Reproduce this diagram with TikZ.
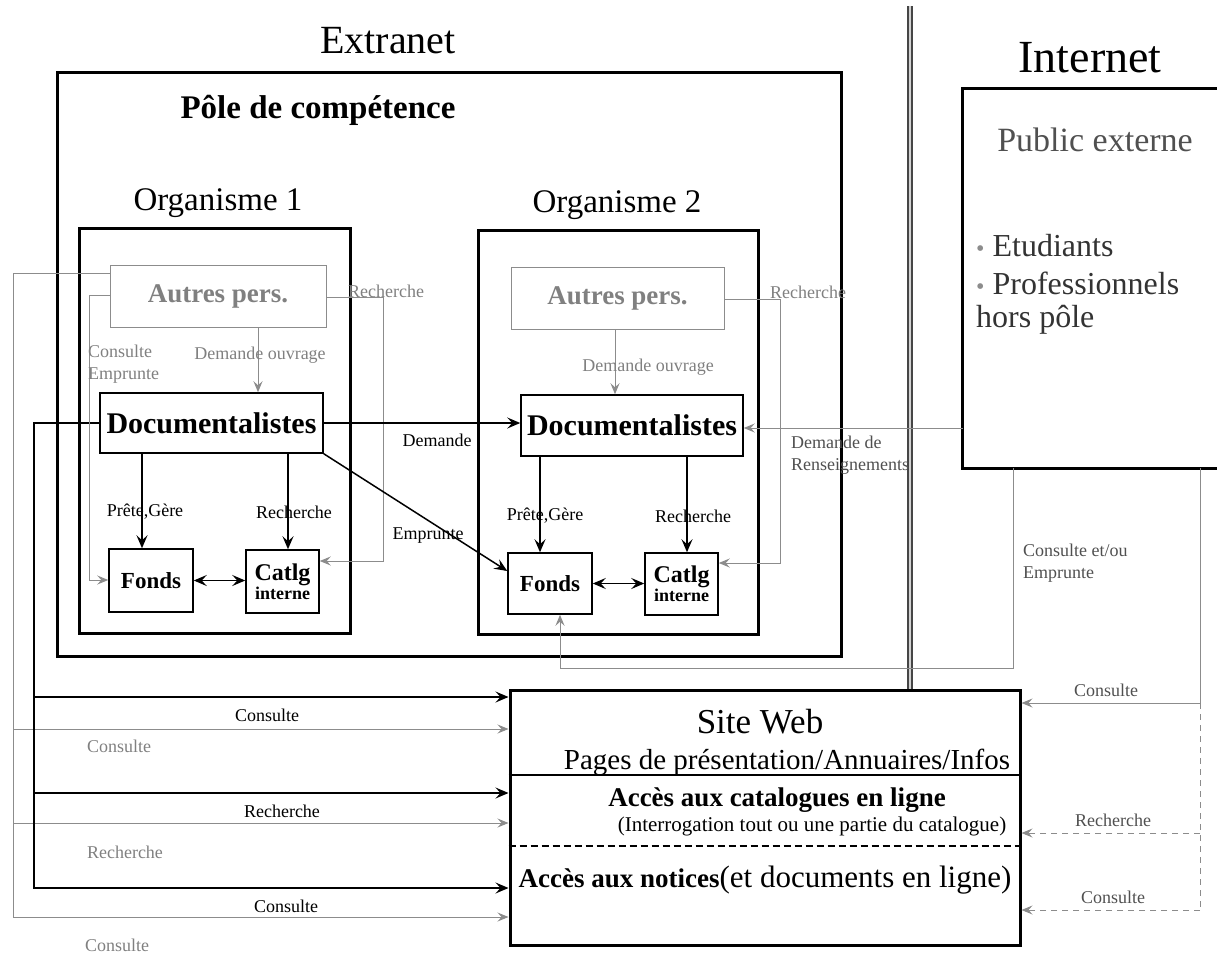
\documentclass[tikz,border=0pt]{standalone}
\usepackage{fontspec}
\setmainfont{Liberation Serif}
\usetikzlibrary{arrows.meta,calc}
\definecolor{lgray}{HTML}{8C8C8C}
\definecolor{tgray}{HTML}{808080}
\definecolor{dgray}{HTML}{505050}
\definecolor{pgray}{HTML}{333333}
\newcommand{\fs}[1]{\fontsize{#1}{#1}\selectfont}
\newcommand{\fsl}[2]{\fontsize{#1}{#2}\selectfont}
\tikzset{
  frame/.style={draw, line width=3pt, inner sep=0pt},
  box/.style={draw, line width=1.5pt, inner sep=0pt, font=\bfseries},
  gbox/.style={draw=lgray, line width=1pt, inner sep=0pt, text=tgray, font=\bfseries\fs{27}},
  blk/.style={line width=1.5pt, >={Stealth[length=13pt,width=11pt,inset=5pt]}, ->},
  blkb/.style={line width=1.5pt, >={Stealth[length=13pt,width=11pt,inset=5pt]}, <->},
  gry/.style={draw=lgray, line width=1pt, >={Stealth[length=11pt,width=9pt,inset=4pt]}, ->},
  gln/.style={draw=lgray, line width=1pt},
  gdash/.style={dash pattern=on 6pt off 5pt},
  lbl/.style={font=\fs{18}, inner sep=1pt},
  glbl/.style={lbl, text=tgray},
  dlbl/.style={lbl, text=dgray},
}
\begin{document}
\begin{tikzpicture}[x=1pt,y=-1pt]
\useasboundingbox (0,0) rectangle (1217,953);

% titles
\node[font=\fs{40}] (extranet) at (388,41) {Extranet};
\node[font=\fs{46}] (internet) at (1090,58) {Internet};

% frames
\node[frame, minimum width=784, minimum height=584] (pole) at (449,364) {};
\node[font=\bfseries\fs{33}] (polet) at (318,110) {Pôle de compétence};
\node[frame, minimum width=271, minimum height=405] (org1) at (214.5,430.5) {};
\node[frame, minimum width=280, minimum height=404] (org2) at (618,432) {};
\node[font=\fs{33}] (org1t) at (218,203) {Organisme 1};
\node[font=\fs{33}] (org2t) at (617,205) {Organisme 2};

% public externe (right edge beyond the page)
\node[inner sep=0pt, minimum width=254, minimum height=379] (pub) at (1090,278.5) {};
\draw[line width=3pt] (pub.north east) -- (pub.north west) -- (pub.south west) -- (pub.south east);
\node[font=\fs{34}, text=dgray] (pubt) at (1095,140) {Public externe};
\node[font=\fs{32}, text=pgray, anchor=west, inner sep=0pt] (pub1) at (976,246) {{\color{lgray}\fs{24}•} Etudiants};
\node[font=\fs{32}, text=pgray, anchor=west, inner sep=0pt] (pub2) at (976,283) {{\color{lgray}\fs{24}•} Professionnels};
\node[font=\fs{32}, text=pgray, anchor=west, inner sep=0pt] (pub3) at (976,320) {hors pôle};

% separator
\draw[draw=gray!55!black, line width=2pt, double=gray!35, double distance=1.6pt] (910,6) -- (910,690);

% organisme 1 nodes
\node[gbox, minimum width=216, minimum height=62] (ap1) at (218,296) {Autres pers.};
\node[box, font=\bfseries\fs{30}, minimum width=223, minimum height=60] (doc1) at (211.5,423) {Documentalistes};
\node[box, font=\bfseries\fs{23}, minimum width=84, minimum height=63] (f1) at (151,580.5) {Fonds};
\node[box, align=center, minimum width=73, minimum height=63] (c1) at (282.5,581.5) {\fsl{24}{24}Catlg\\\fsl{18}{25}interne};

% organisme 2 nodes
\node[gbox, minimum width=213, minimum height=62] (ap2) at (617.5,298) {Autres pers.};
\node[box, font=\bfseries\fs{30}, minimum width=222, minimum height=61] (doc2) at (632,425.5) {Documentalistes};
\node[box, font=\bfseries\fs{23}, minimum width=84, minimum height=61] (f2) at (550,583.5) {Fonds};
\node[box, align=center, minimum width=73, minimum height=62] (c2) at (681.5,584) {\fsl{24}{24}Catlg\\\fsl{18}{25}interne};

% site web
\node[frame, minimum width=510, minimum height=255] (sw) at (765,817.5) {};
\node[font=\fs{35}] (swt) at (760,722) {Site Web};
\node[font=\fs{29}] (swp) at (787,762) {Pages de présentation/Annuaires/Infos};
\draw[line width=1.5pt] (sw.west |- 0,775) -- (sw.east |- 0,775);
\node[font=\bfseries\fs{27}] (swc) at (777,800) {Accès aux catalogues en ligne};
\node[font=\fs{21}] (swi) at (812,826) {(Interrogation tout ou une partie du catalogue)};
\draw[line width=1.5pt, dash pattern=on 7pt off 4pt] (sw.west |- 0,846) -- (sw.east |- 0,846);
\node[font=\fs{31}] (swn) at (765,880) {{\bfseries\fs{27}Accès aux notices}(et documents en ligne)};

% coordinates for bends
\coordinate (gA) at (13,729);
\coordinate (gB) at (13,823);
\coordinate (bA) at (34,697);
\coordinate (bB) at (34,793);
\coordinate (rA) at (1200,703);
\coordinate (rB) at (1200,833);
\coordinate (rC) at (1200,910);

% left long connectors
\draw[gry] (ap1.west |- 0,273) -- (13,273) -- (13,917) -- (sw.west |- 0,917);
\draw[gry] (gA) -- (sw.west |- gA);
\draw[gry] (gB) -- (sw.west |- gB);
\draw[blk] (doc1.west) -- (34,423) -- (34,888) -- (sw.west |- 0,888);
\draw[blk] (bA) -- (sw.west |- bA);
\draw[blk] (bB) -- (sw.west |- bB);

\node[lbl] at (267,715) {Consulte};
\node[glbl] at (119,746) {Consulte};
\node[lbl] at (282,811) {Recherche};
\node[glbl] at (125,852) {Recherche};
\node[lbl] at (286,906) {Consulte};
\node[glbl] at (117,945) {Consulte};

% organisme 1 connectors
\draw[gry] (ap1.west |- 0,295) -- (89,295) -- (89,580) -- (f1.west |- 0,580);
\node[glbl, anchor=west, align=left, font=\fsl{18}{22}] at (87,364) {Consulte\\Emprunte};
\draw[gry] (ap1.east |- 0,297) -- (383,297) -- (383,561) -- (c1.east |- 0,561);
\node[glbl] at (386,291) {Recherche};
\draw[gry] (ap1.south -| 258,0) -- (doc1.north -| 258,0);
\node[glbl] at (260,355) {Demande ouvrage};
\draw[blk] (doc1.south -| 142,0) -- (f1.north -| 142,0);
\draw[blk] (doc1.south -| 288,0) -- (c1.north -| 288,0);
\node[lbl] at (145,512) {Prête,Gère};
\node[lbl] at (294,512) {Recherche};
\draw[blkb] (f1.east) -- (c1.west |- f1.east);

% between organisms
\draw[blk] (doc1.east) -- (doc2.west |- doc1.east);
\node[lbl] at (437,440) {Demande};
\draw[blk] (doc1.south east) -- (f2.west |- 0,571);
\node[lbl] at (428,536) {Emprunte};

% organisme 2 connectors
\draw[gry] (ap2.south -| 615,0) -- (doc2.north -| 615,0);
\node[glbl] at (648,367) {Demande ouvrage};
\draw[gry] (ap2.east |- 0,299) -- (780,299) -- (780,563) -- (c2.east |- 0,563);
\node[glbl] at (808,292) {Recherche};
\draw[blk] (doc2.south -| 540,0) -- (f2.north -| 540,0);
\draw[blk] (doc2.south -| 687,0) -- (c2.north -| 687,0);
\node[lbl] at (545,516) {Prête,Gère};
\node[lbl] at (693,516) {Recherche};
\draw[blkb] (f2.east) -- (c2.west |- f2.east);

% public externe connectors
\draw[gry] (pub.west |- 0,428) -- (doc2.east |- 0,428);
\node[dlbl, anchor=west, align=left, font=\fsl{18}{22}] at (790,455) {Demande de\\Renseignements};
\draw[gry] (pub.south -| 1013,0) -- (1013,668) -- (560,668) -- (f2.south -| 560,0);
\node[dlbl, anchor=west, align=left, font=\fsl{18}{22}] at (1022,563) {Consulte et/ou\\Emprunte};
\draw[gry] (pub.south -| 1200,0) -- (rA) -- (sw.east |- rA);
\node[dlbl] at (1106,690) {Consulte};
\draw[gln, gdash] (rA) -- (rC);
\draw[gry, gdash] (rB) -- (sw.east |- rB);
\node[dlbl] at (1113,820) {Recherche};
\draw[gry, gdash] (rC) -- (sw.east |- rC);
\node[dlbl] at (1113,897) {Consulte};

\end{tikzpicture}
\end{document}
